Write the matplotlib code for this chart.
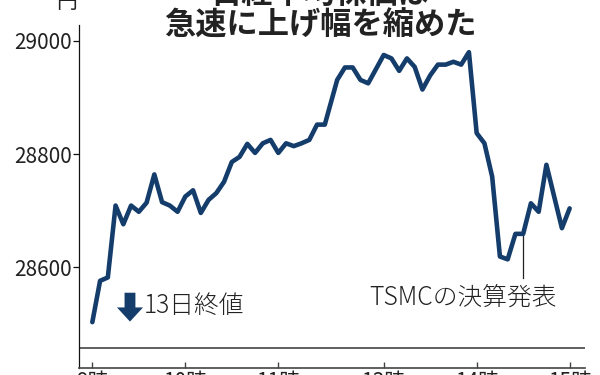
import matplotlib
matplotlib.use("Agg")
import matplotlib.pyplot as plt
from matplotlib.patches import FancyArrow

plt.rcParams['font.family'] = ['Noto Sans CJK JP', 'DejaVu Sans']

# --- data (Nikkei average, 5-minute points) ---
title_lines = ["日経平均株価は", "急速に上げ幅を縮めた"]
unit_label = "円"
morning_values = [28503, 28576, 28582, 28709, 28676, 28709, 28698, 28714, 28764, 28715,
                  28709, 28698, 28725, 28736, 28696, 28719, 28731, 28751, 28786, 28795,
                  28818, 28802, 28819, 28825, 28802, 28819, 28814, 28819, 28825, 28852,
                  28852]  # 9:00 - 11:30
afternoon_values = [28931, 28953, 28953, 28931, 28925, 28950, 28975, 28969, 28947, 28969,
                    28954, 28914, 28939, 28958, 28958, 28963, 28958, 28980, 28837, 28819,
                    28760, 28619, 28614, 28659, 28659, 28713, 28698, 28781, 28725, 28669,
                    28704]  # 12:30 - 15:00
prev_close = 28456.59
prev_close_label = "13日終値"
event_label = "TSMCの決算発表"
event_index = 24  # afternoon point where the TSMC results came out
y_ticks = [28600, 28800, 29000]
x_tick_hours = [9, 10, 11, 13, 14, 15]
x_tick_labels = ["9時", "10時", "11時", "13時", "14時", "15時"]

# --- compressed time axis (minutes since 9:00, lunch break squeezed) ---
GAP = 8
def pos(minutes_from_9):
    if minutes_from_9 <= 150:
        return minutes_from_9
    return minutes_from_9 - 60 + GAP

morning_x = [pos(5 * i) for i in range(len(morning_values))]
afternoon_x = [pos(210 + 5 * i) for i in range(len(afternoon_values))]
xs = morning_x + afternoon_x
ys = morning_values + afternoon_values

NAVY = '#143d6c'
TEXT = '#222222'

fig = plt.figure(figsize=(6, 3.75), dpi=100)
W, H = 600, 375
ax = fig.add_axes([79 / W, 7 / H, (585 - 79) / W, (368 - 25) / H])

ax.plot(xs, ys, color=NAVY, lw=3.3, solid_joinstyle='round', solid_capstyle='round', zorder=3)
ax.axhline(prev_close, color='#444444', lw=1.2, zorder=1)

ax.set_xlim(-8.6, 317.9)
ax.set_ylim(28422, 29028)

for s in ['top', 'right']:
    ax.spines[s].set_visible(False)
ax.spines['left'].set_color('#111111')
ax.spines['left'].set_linewidth(0.9)
ax.spines['bottom'].set_color('#444444')
ax.spines['bottom'].set_linewidth(1.2)

ax.set_yticks(y_ticks)
ax.set_yticklabels([str(v) for v in y_ticks])
ax.tick_params(axis='y', direction='out', length=4, width=0.9, pad=1,
               labelsize=15, colors='#111111', labelcolor=TEXT)

ax.set_xticks([pos((h - 9) * 60) for h in x_tick_hours])
ax.set_xticklabels(x_tick_labels)
ax.tick_params(axis='x', direction='in', length=4.5, width=1, pad=2,
               labelsize=15, colors='#444444', labelcolor=TEXT)

# unit label and title
fig.text(67 / W, 1 - 2 / H, unit_label, ha='center', va='center', fontsize=15, color=TEXT)
fig.text(320 / W, 1 - (-6) / H, title_lines[0], ha='center', va='center',
         fontsize=22.5, fontweight='bold', color=TEXT)
fig.text(320 / W, 1 - 26 / H, title_lines[1], ha='center', va='center',
         fontsize=22.5, fontweight='bold', color=TEXT)

# previous close marker: down arrow + label
ax.add_patch(FancyArrow(24.3, 28555, 0, -(28555 - 28504), width=7.0,
                        head_width=16.8, head_length=25, length_includes_head=True,
                        color=NAVY, lw=0, zorder=4))
ax.text(33.5, 28532, prev_close_label, ha='left', va='center', fontsize=17.8,
        color=TEXT, fontweight='light')

# TSMC event annotation
ex = afternoon_x[event_index]
ey = afternoon_values[event_index]
ax.plot([ex, ex], [ey, 28581], color='#222222', lw=0.9, zorder=2)
ax.text(178.5, 28547, event_label, ha='left', va='center', fontsize=17.8,
        color=TEXT, fontweight='light')

fig.savefig('out.png', dpi=100)
